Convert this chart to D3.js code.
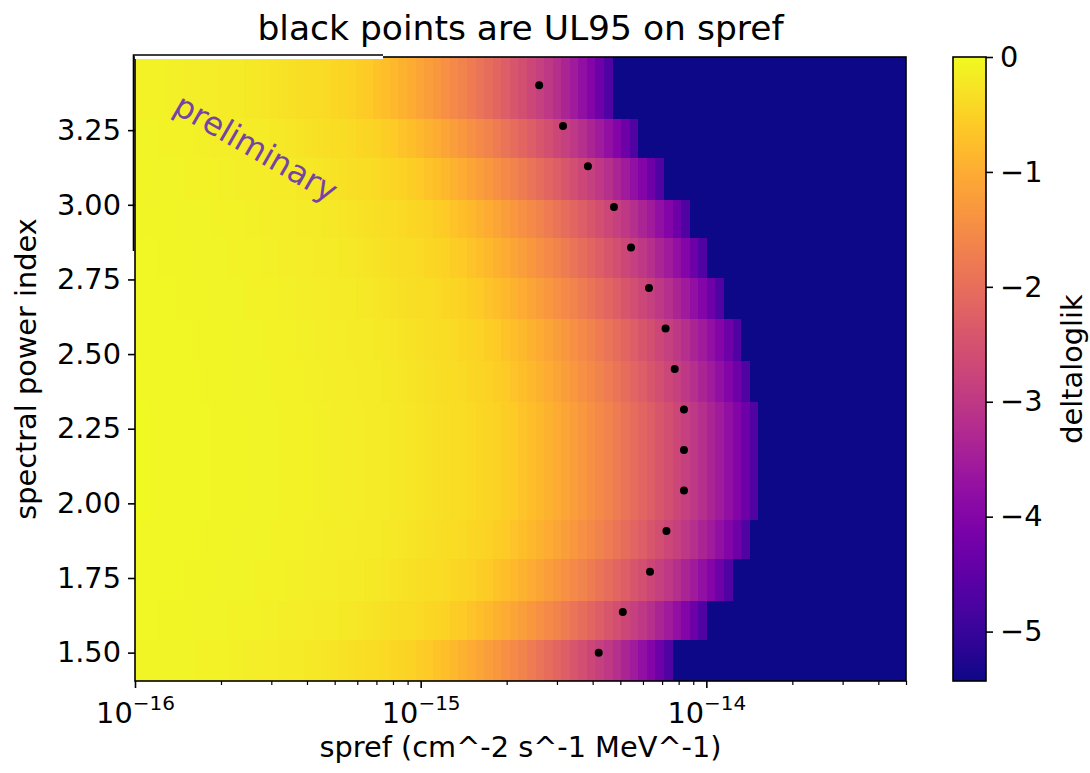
<!DOCTYPE html>
<html>
<head>
<meta charset="utf-8">
<script src="https://cdn.jsdelivr.net/npm/d3@7"></script>
<style>
  body { margin: 0; background: #fff; }
  text { font-family: "DejaVu Sans", sans-serif; }
</style>
</head>
<body>
<svg id="chart" width="1090" height="773"></svg>
<script>
// spectral power index of each scan row (bottom to top)
const spectralIndex = [1.5, 1.636, 1.771, 1.907, 2.043, 2.179, 2.314, 2.45, 2.586, 2.721, 2.857, 2.993, 3.129, 3.264, 3.4];
// row boundaries of the likelihood map, in spectral index units
const rowEdges = [1.405, 1.543, 1.674, 1.816, 1.945, 2.082, 2.211, 2.342, 2.479, 2.621, 2.757, 2.892, 3.019, 3.160, 3.291, 3.495];
// UL95 on spref for each row (black points)
const ul95 = [4.2e-15, 5.1e-15, 6.35e-15, 7.25e-15, 8.35e-15, 8.35e-15, 8.35e-15, 7.75e-15, 7.2e-15, 6.3e-15, 5.45e-15, 4.75e-15, 3.85e-15, 3.15e-15, 2.6e-15];
// spref scan grid: first cell edge and step, in log10 units
const sprefLogStart = -16.008;
const sprefLogStep = 0.03;

// deltaloglik per row, one value per spref cell
const dll150 = [
  -0.05,-0.06,-0.06,-0.07,-0.07,-0.08,-0.08,-0.09,-0.09,-0.10,
  -0.10,-0.11,-0.12,-0.13,-0.14,-0.15,-0.16,-0.17,-0.18,-0.19,
  -0.21,-0.22,-0.24,-0.26,-0.28,-0.30,-0.32,-0.34,-0.37,-0.40,
  -0.43,-0.46,-0.50,-0.55,-0.61,-0.68,-0.76,-0.84,-0.93,-1.02,
  -1.12,-1.22,-1.32,-1.43,-1.54,-1.65,-1.77,-1.89,-2.02,-2.15,
  -2.28,-2.42,-2.56,-2.70,-2.85,-3.01,-3.18,-3.36,-3.55,-3.76,
  -3.99,-4.30,-4.70,-5.43,-5.43,-5.43,-5.43,-5.43,-5.43,-5.43,
  -5.43,-5.43,-5.43,-5.43,-5.43,-5.43,-5.43,-5.43,-5.43,-5.43,
  -5.43,-5.43,-5.43,-5.43,-5.43,-5.43,-5.43,-5.43,-5.43,-5.43];
const dll164 = [
  -0.04,-0.04,-0.04,-0.05,-0.05,-0.06,-0.06,-0.07,-0.07,-0.08,
  -0.08,-0.09,-0.09,-0.10,-0.10,-0.11,-0.12,-0.13,-0.14,-0.15,
  -0.16,-0.17,-0.18,-0.19,-0.21,-0.22,-0.24,-0.26,-0.28,-0.30,
  -0.32,-0.34,-0.37,-0.40,-0.43,-0.46,-0.50,-0.55,-0.61,-0.68,
  -0.76,-0.84,-0.93,-1.02,-1.12,-1.22,-1.32,-1.43,-1.54,-1.65,
  -1.77,-1.89,-2.02,-2.15,-2.28,-2.42,-2.56,-2.70,-2.85,-3.01,
  -3.18,-3.36,-3.55,-3.76,-3.99,-4.30,-4.70,-5.43,-5.43,-5.43,
  -5.43,-5.43,-5.43,-5.43,-5.43,-5.43,-5.43,-5.43,-5.43,-5.43,
  -5.43,-5.43,-5.43,-5.43,-5.43,-5.43,-5.43,-5.43,-5.43,-5.43];
const dll177 = [
  -0.03,-0.03,-0.03,-0.04,-0.04,-0.04,-0.05,-0.05,-0.06,-0.06,
  -0.07,-0.07,-0.08,-0.08,-0.09,-0.09,-0.10,-0.10,-0.11,-0.12,
  -0.13,-0.14,-0.15,-0.16,-0.17,-0.18,-0.19,-0.21,-0.22,-0.24,
  -0.26,-0.28,-0.30,-0.32,-0.34,-0.37,-0.40,-0.43,-0.46,-0.50,
  -0.55,-0.61,-0.68,-0.76,-0.84,-0.93,-1.02,-1.12,-1.22,-1.32,
  -1.43,-1.54,-1.65,-1.77,-1.89,-2.02,-2.15,-2.28,-2.42,-2.56,
  -2.70,-2.85,-3.01,-3.18,-3.36,-3.55,-3.76,-3.99,-4.30,-4.70,
  -5.43,-5.43,-5.43,-5.43,-5.43,-5.43,-5.43,-5.43,-5.43,-5.43,
  -5.43,-5.43,-5.43,-5.43,-5.43,-5.43,-5.43,-5.43,-5.43,-5.43];
const dll191 = [
  -0.02,-0.03,-0.03,-0.03,-0.03,-0.04,-0.04,-0.04,-0.05,-0.05,
  -0.06,-0.06,-0.07,-0.07,-0.08,-0.08,-0.09,-0.09,-0.10,-0.10,
  -0.11,-0.12,-0.13,-0.14,-0.15,-0.16,-0.17,-0.18,-0.19,-0.21,
  -0.22,-0.24,-0.26,-0.28,-0.30,-0.32,-0.34,-0.37,-0.40,-0.43,
  -0.46,-0.50,-0.55,-0.61,-0.68,-0.76,-0.84,-0.93,-1.02,-1.12,
  -1.22,-1.32,-1.43,-1.54,-1.65,-1.77,-1.89,-2.02,-2.15,-2.28,
  -2.42,-2.56,-2.70,-2.85,-3.01,-3.18,-3.36,-3.55,-3.76,-3.99,
  -4.30,-4.70,-5.43,-5.43,-5.43,-5.43,-5.43,-5.43,-5.43,-5.43,
  -5.43,-5.43,-5.43,-5.43,-5.43,-5.43,-5.43,-5.43,-5.43,-5.43];
const dll204 = [
  -0.02,-0.02,-0.03,-0.03,-0.03,-0.03,-0.04,-0.04,-0.04,-0.05,
  -0.05,-0.06,-0.06,-0.07,-0.07,-0.08,-0.08,-0.09,-0.09,-0.10,
  -0.10,-0.11,-0.12,-0.13,-0.14,-0.15,-0.16,-0.17,-0.18,-0.19,
  -0.21,-0.22,-0.24,-0.26,-0.28,-0.30,-0.32,-0.34,-0.37,-0.40,
  -0.43,-0.46,-0.50,-0.55,-0.61,-0.68,-0.76,-0.84,-0.93,-1.02,
  -1.12,-1.22,-1.32,-1.43,-1.54,-1.65,-1.77,-1.89,-2.02,-2.15,
  -2.28,-2.42,-2.56,-2.70,-2.85,-3.01,-3.18,-3.36,-3.55,-3.76,
  -3.99,-4.30,-4.70,-5.43,-5.43,-5.43,-5.43,-5.43,-5.43,-5.43,
  -5.43,-5.43,-5.43,-5.43,-5.43,-5.43,-5.43,-5.43,-5.43,-5.43];
const dll218 = [
  -0.02,-0.02,-0.03,-0.03,-0.03,-0.03,-0.04,-0.04,-0.04,-0.05,
  -0.05,-0.06,-0.06,-0.07,-0.07,-0.08,-0.08,-0.09,-0.09,-0.10,
  -0.10,-0.11,-0.12,-0.13,-0.14,-0.15,-0.16,-0.17,-0.18,-0.19,
  -0.21,-0.22,-0.24,-0.26,-0.28,-0.30,-0.32,-0.34,-0.37,-0.40,
  -0.43,-0.46,-0.50,-0.55,-0.61,-0.68,-0.76,-0.84,-0.93,-1.02,
  -1.12,-1.22,-1.32,-1.43,-1.54,-1.65,-1.77,-1.89,-2.02,-2.15,
  -2.28,-2.42,-2.56,-2.70,-2.85,-3.01,-3.18,-3.36,-3.55,-3.76,
  -3.99,-4.30,-4.70,-5.43,-5.43,-5.43,-5.43,-5.43,-5.43,-5.43,
  -5.43,-5.43,-5.43,-5.43,-5.43,-5.43,-5.43,-5.43,-5.43,-5.43];
const dll231 = [
  -0.02,-0.02,-0.03,-0.03,-0.03,-0.03,-0.04,-0.04,-0.04,-0.05,
  -0.05,-0.06,-0.06,-0.07,-0.07,-0.08,-0.08,-0.09,-0.09,-0.10,
  -0.10,-0.11,-0.12,-0.13,-0.14,-0.15,-0.16,-0.17,-0.18,-0.19,
  -0.21,-0.22,-0.24,-0.26,-0.28,-0.30,-0.32,-0.34,-0.37,-0.40,
  -0.43,-0.46,-0.50,-0.55,-0.61,-0.68,-0.76,-0.84,-0.93,-1.02,
  -1.12,-1.22,-1.32,-1.43,-1.54,-1.65,-1.77,-1.89,-2.02,-2.15,
  -2.28,-2.42,-2.56,-2.70,-2.85,-3.01,-3.18,-3.36,-3.55,-3.76,
  -3.99,-4.30,-4.70,-5.43,-5.43,-5.43,-5.43,-5.43,-5.43,-5.43,
  -5.43,-5.43,-5.43,-5.43,-5.43,-5.43,-5.43,-5.43,-5.43,-5.43];
const dll245 = [
  -0.02,-0.03,-0.03,-0.03,-0.03,-0.04,-0.04,-0.04,-0.05,-0.05,
  -0.06,-0.06,-0.07,-0.07,-0.08,-0.08,-0.09,-0.09,-0.10,-0.10,
  -0.11,-0.12,-0.13,-0.14,-0.15,-0.16,-0.17,-0.18,-0.19,-0.21,
  -0.22,-0.24,-0.26,-0.28,-0.30,-0.32,-0.34,-0.37,-0.40,-0.43,
  -0.46,-0.50,-0.55,-0.61,-0.68,-0.76,-0.84,-0.93,-1.02,-1.12,
  -1.22,-1.32,-1.43,-1.54,-1.65,-1.77,-1.89,-2.02,-2.15,-2.28,
  -2.42,-2.56,-2.70,-2.85,-3.01,-3.18,-3.36,-3.55,-3.76,-3.99,
  -4.30,-4.70,-5.43,-5.43,-5.43,-5.43,-5.43,-5.43,-5.43,-5.43,
  -5.43,-5.43,-5.43,-5.43,-5.43,-5.43,-5.43,-5.43,-5.43,-5.43];
const dll259 = [
  -0.03,-0.03,-0.03,-0.03,-0.04,-0.04,-0.04,-0.05,-0.05,-0.06,
  -0.06,-0.07,-0.07,-0.08,-0.08,-0.09,-0.09,-0.10,-0.10,-0.11,
  -0.12,-0.13,-0.14,-0.15,-0.16,-0.17,-0.18,-0.19,-0.21,-0.22,
  -0.24,-0.26,-0.28,-0.30,-0.32,-0.34,-0.37,-0.40,-0.43,-0.46,
  -0.50,-0.55,-0.61,-0.68,-0.76,-0.84,-0.93,-1.02,-1.12,-1.22,
  -1.32,-1.43,-1.54,-1.65,-1.77,-1.89,-2.02,-2.15,-2.28,-2.42,
  -2.56,-2.70,-2.85,-3.01,-3.18,-3.36,-3.55,-3.76,-3.99,-4.30,
  -4.70,-5.43,-5.43,-5.43,-5.43,-5.43,-5.43,-5.43,-5.43,-5.43,
  -5.43,-5.43,-5.43,-5.43,-5.43,-5.43,-5.43,-5.43,-5.43,-5.43];
const dll272 = [
  -0.03,-0.03,-0.04,-0.04,-0.04,-0.05,-0.05,-0.06,-0.06,-0.07,
  -0.07,-0.08,-0.08,-0.09,-0.09,-0.10,-0.10,-0.11,-0.12,-0.13,
  -0.14,-0.15,-0.16,-0.17,-0.18,-0.19,-0.21,-0.22,-0.24,-0.26,
  -0.28,-0.30,-0.32,-0.34,-0.37,-0.40,-0.43,-0.46,-0.50,-0.55,
  -0.61,-0.68,-0.76,-0.84,-0.93,-1.02,-1.12,-1.22,-1.32,-1.43,
  -1.54,-1.65,-1.77,-1.89,-2.02,-2.15,-2.28,-2.42,-2.56,-2.70,
  -2.85,-3.01,-3.18,-3.36,-3.55,-3.76,-3.99,-4.30,-4.70,-5.43,
  -5.43,-5.43,-5.43,-5.43,-5.43,-5.43,-5.43,-5.43,-5.43,-5.43,
  -5.43,-5.43,-5.43,-5.43,-5.43,-5.43,-5.43,-5.43,-5.43,-5.43];
const dll286 = [
  -0.04,-0.04,-0.04,-0.05,-0.05,-0.06,-0.06,-0.07,-0.07,-0.08,
  -0.08,-0.09,-0.09,-0.10,-0.10,-0.11,-0.12,-0.13,-0.14,-0.15,
  -0.16,-0.17,-0.18,-0.19,-0.21,-0.22,-0.24,-0.26,-0.28,-0.30,
  -0.32,-0.34,-0.37,-0.40,-0.43,-0.46,-0.50,-0.55,-0.61,-0.68,
  -0.76,-0.84,-0.93,-1.02,-1.12,-1.22,-1.32,-1.43,-1.54,-1.65,
  -1.77,-1.89,-2.02,-2.15,-2.28,-2.42,-2.56,-2.70,-2.85,-3.01,
  -3.18,-3.36,-3.55,-3.76,-3.99,-4.30,-4.70,-5.43,-5.43,-5.43,
  -5.43,-5.43,-5.43,-5.43,-5.43,-5.43,-5.43,-5.43,-5.43,-5.43,
  -5.43,-5.43,-5.43,-5.43,-5.43,-5.43,-5.43,-5.43,-5.43,-5.43];
const dll299 = [
  -0.04,-0.05,-0.05,-0.06,-0.06,-0.07,-0.07,-0.08,-0.08,-0.09,
  -0.09,-0.10,-0.10,-0.11,-0.12,-0.13,-0.14,-0.15,-0.16,-0.17,
  -0.18,-0.19,-0.21,-0.22,-0.24,-0.26,-0.28,-0.30,-0.32,-0.34,
  -0.37,-0.40,-0.43,-0.46,-0.50,-0.55,-0.61,-0.68,-0.76,-0.84,
  -0.93,-1.02,-1.12,-1.22,-1.32,-1.43,-1.54,-1.65,-1.77,-1.89,
  -2.02,-2.15,-2.28,-2.42,-2.56,-2.70,-2.85,-3.01,-3.18,-3.36,
  -3.55,-3.76,-3.99,-4.30,-4.70,-5.43,-5.43,-5.43,-5.43,-5.43,
  -5.43,-5.43,-5.43,-5.43,-5.43,-5.43,-5.43,-5.43,-5.43,-5.43,
  -5.43,-5.43,-5.43,-5.43,-5.43,-5.43,-5.43,-5.43,-5.43,-5.43];
const dll313 = [
  -0.06,-0.06,-0.07,-0.07,-0.08,-0.08,-0.09,-0.09,-0.10,-0.10,
  -0.11,-0.12,-0.13,-0.14,-0.15,-0.16,-0.17,-0.18,-0.19,-0.21,
  -0.22,-0.24,-0.26,-0.28,-0.30,-0.32,-0.34,-0.37,-0.40,-0.43,
  -0.46,-0.50,-0.55,-0.61,-0.68,-0.76,-0.84,-0.93,-1.02,-1.12,
  -1.22,-1.32,-1.43,-1.54,-1.65,-1.77,-1.89,-2.02,-2.15,-2.28,
  -2.42,-2.56,-2.70,-2.85,-3.01,-3.18,-3.36,-3.55,-3.76,-3.99,
  -4.30,-4.70,-5.43,-5.43,-5.43,-5.43,-5.43,-5.43,-5.43,-5.43,
  -5.43,-5.43,-5.43,-5.43,-5.43,-5.43,-5.43,-5.43,-5.43,-5.43,
  -5.43,-5.43,-5.43,-5.43,-5.43,-5.43,-5.43,-5.43,-5.43,-5.43];
const dll326 = [
  -0.07,-0.08,-0.08,-0.09,-0.09,-0.10,-0.10,-0.11,-0.12,-0.13,
  -0.14,-0.15,-0.16,-0.17,-0.18,-0.19,-0.21,-0.22,-0.24,-0.26,
  -0.28,-0.30,-0.32,-0.34,-0.37,-0.40,-0.43,-0.46,-0.50,-0.55,
  -0.61,-0.68,-0.76,-0.84,-0.93,-1.02,-1.12,-1.22,-1.32,-1.43,
  -1.54,-1.65,-1.77,-1.89,-2.02,-2.15,-2.28,-2.42,-2.56,-2.70,
  -2.85,-3.01,-3.18,-3.36,-3.55,-3.76,-3.99,-4.30,-4.70,-5.43,
  -5.43,-5.43,-5.43,-5.43,-5.43,-5.43,-5.43,-5.43,-5.43,-5.43,
  -5.43,-5.43,-5.43,-5.43,-5.43,-5.43,-5.43,-5.43,-5.43,-5.43,
  -5.43,-5.43,-5.43,-5.43,-5.43,-5.43,-5.43,-5.43,-5.43,-5.43];
const dll340 = [
  -0.09,-0.09,-0.10,-0.10,-0.11,-0.12,-0.13,-0.14,-0.15,-0.16,
  -0.17,-0.18,-0.19,-0.21,-0.22,-0.24,-0.26,-0.28,-0.30,-0.32,
  -0.34,-0.37,-0.40,-0.43,-0.46,-0.50,-0.55,-0.61,-0.68,-0.76,
  -0.84,-0.93,-1.02,-1.12,-1.22,-1.32,-1.43,-1.54,-1.65,-1.77,
  -1.89,-2.02,-2.15,-2.28,-2.42,-2.56,-2.70,-2.85,-3.01,-3.18,
  -3.36,-3.55,-3.76,-3.99,-4.30,-4.70,-5.43,-5.43,-5.43,-5.43,
  -5.43,-5.43,-5.43,-5.43,-5.43,-5.43,-5.43,-5.43,-5.43,-5.43,
  -5.43,-5.43,-5.43,-5.43,-5.43,-5.43,-5.43,-5.43,-5.43,-5.43,
  -5.43,-5.43,-5.43,-5.43,-5.43,-5.43,-5.43,-5.43,-5.43,-5.43];
const deltaloglik = [dll150, dll164, dll177, dll191, dll204, dll218, dll231, dll245,
                     dll259, dll272, dll286, dll299, dll313, dll326, dll340];

const yTicks = [1.5, 1.75, 2.0, 2.25, 2.5, 2.75, 3.0, 3.25];
const xMajorTicks = [1e-16, 1e-15, 1e-14];
const xTickExp = ['−16', '−15', '−14'];
const cbarTicks = [0, -1, -2, -3, -4, -5];

const svg = d3.select('#chart');
const plot = { left: 135, right: 906, top: 57, bottom: 681 };
const cbar = { left: 953, right: 986 };
const labelSize = 28.8;

const x = d3.scaleLog().domain([1e-16, 5e-14]).range([plot.left, plot.right]);
const y = d3.scaleLinear().domain([1.405, 3.495]).range([plot.bottom, plot.top]);
const color = d3.scaleSequential(d3.interpolatePlasma).domain([-5.43, 0]);

// cell edges along spref
const colEdges = d3.range(dll150.length + 1).map(i => Math.pow(10, sprefLogStart + i * sprefLogStep));
colEdges[colEdges.length - 1] = Math.max(colEdges[colEdges.length - 1], x.domain()[1]);

svg.append('clipPath').attr('id', 'plotclip')
  .append('rect')
  .attr('x', plot.left).attr('y', plot.top)
  .attr('width', plot.right - plot.left).attr('height', plot.bottom - plot.top);

const cells = svg.append('g').attr('clip-path', 'url(#plotclip)').attr('shape-rendering', 'crispEdges');
deltaloglik.forEach((row, r) => {
  cells.append('g').selectAll('rect')
    .data(row)
    .enter()
    .append('rect')
    .attr('x', (d, c) => x(colEdges[c]))
    .attr('width', (d, c) => x(colEdges[c + 1]) - x(colEdges[c]) + 0.6)
    .attr('y', y(rowEdges[r + 1]))
    .attr('height', y(rowEdges[r]) - y(rowEdges[r + 1]) + 0.6)
    .attr('fill', d => color(d));
});

// UL95 points
svg.append('g')
  .selectAll('circle')
  .data(ul95)
  .enter()
  .append('circle')
  .attr('cx', d => x(d))
  .attr('cy', (d, i) => y(spectralIndex[i]))
  .attr('r', 4)
  .attr('fill', '#000');

// watermark
svg.append('text')
  .attr('transform', 'translate(256,148) rotate(30)')
  .attr('text-anchor', 'middle')
  .attr('dominant-baseline', 'central')
  .attr('font-size', 32)
  .attr('fill', '#7443a4')
  .text('preliminary');

// frame
svg.append('rect')
  .attr('x', plot.left).attr('y', plot.top)
  .attr('width', plot.right - plot.left).attr('height', plot.bottom - plot.top)
  .attr('fill', 'none').attr('stroke', '#000').attr('stroke-width', 1.6);
// slightly shifted frame corner of the pasted watermark patch
svg.append('rect').attr('x', plot.left).attr('y', plot.top - 1).attr('width', 248).attr('height', 3).attr('fill', '#fff');
svg.append('path')
  .attr('d', `M${plot.left - 1.5},251 V${plot.top - 2} H383`)
  .attr('fill', 'none').attr('stroke', '#000').attr('stroke-width', 1.6);

function styleAxis(g) {
  g.select('.domain').remove();
  g.selectAll('.tick line').attr('stroke', '#000').attr('stroke-width', 1.6);
  g.selectAll('.tick text').attr('font-family', '"DejaVu Sans", sans-serif').attr('font-size', labelSize).attr('fill', '#000');
}

// y axis
svg.append('g')
  .attr('transform', `translate(${plot.left},0)`)
  .call(d3.axisLeft(y).tickValues(yTicks).tickFormat(d3.format('.2f')).tickSize(7).tickPadding(7))
  .call(styleAxis);

// x axis: minor then major ticks
const xMinor = [];
[1e-16, 1e-15, 1e-14].forEach(dec => [2, 3, 4, 5, 6, 7, 8, 9].forEach(m => { if (m * dec <= 5e-14) xMinor.push(m * dec); }));
svg.append('g')
  .attr('transform', `translate(0,${plot.bottom})`)
  .call(d3.axisBottom(x).tickValues(xMinor).tickFormat('').tickSize(4))
  .call(styleAxis)
  .selectAll('.tick line').attr('stroke-width', 1.2);

const xAxis = svg.append('g')
  .attr('transform', `translate(0,${plot.bottom})`)
  .call(d3.axisBottom(x).tickValues(xMajorTicks).tickFormat('').tickSize(7))
  .call(styleAxis);
xAxis.selectAll('.tick').each(function (d, i) {
  const t = d3.select(this).append('text')
    .attr('y', 42)
    .attr('text-anchor', 'middle')
    .attr('font-size', labelSize)
    .attr('fill', '#000');
  t.append('tspan').text('10');
  t.append('tspan').attr('dy', -13).attr('font-size', 20).text(xTickExp[i]);
});

// colorbar
const cscale = d3.scaleLinear().domain([-5.43, 0]).range([plot.bottom, plot.top]);
const grad = svg.append('defs').append('linearGradient')
  .attr('id', 'cbgrad').attr('x1', 0).attr('y1', 1).attr('x2', 0).attr('y2', 0);
d3.range(0, 1.0001, 0.05).forEach(t => {
  grad.append('stop').attr('offset', t).attr('stop-color', d3.interpolatePlasma(t));
});
svg.append('rect')
  .attr('x', cbar.left).attr('y', plot.top)
  .attr('width', cbar.right - cbar.left).attr('height', plot.bottom - plot.top)
  .attr('fill', 'url(#cbgrad)')
  .attr('stroke', '#000').attr('stroke-width', 1.6);
svg.append('g')
  .attr('transform', `translate(${cbar.right},0)`)
  .call(d3.axisRight(cscale).tickValues(cbarTicks).tickFormat(d3.format('d')).tickSize(7).tickPadding(7))
  .call(styleAxis);

// titles and labels
svg.append('text')
  .attr('x', (plot.left + plot.right) / 2).attr('y', 40)
  .attr('text-anchor', 'middle').attr('font-size', 34.5)
  .text('black points are UL95 on spref');
svg.append('text')
  .attr('x', (plot.left + plot.right) / 2).attr('y', 757)
  .attr('text-anchor', 'middle').attr('font-size', labelSize)
  .text('spref (cm^-2 s^-1 MeV^-1)');
svg.append('text')
  .attr('transform', `translate(36,${(plot.top + plot.bottom) / 2}) rotate(-90)`)
  .attr('text-anchor', 'middle').attr('font-size', labelSize)
  .text('spectral power index');
svg.append('text')
  .attr('transform', `translate(1082,${(plot.top + plot.bottom) / 2}) rotate(-90)`)
  .attr('text-anchor', 'middle').attr('font-size', labelSize)
  .text('deltaloglik');
</script>
</body>
</html>
